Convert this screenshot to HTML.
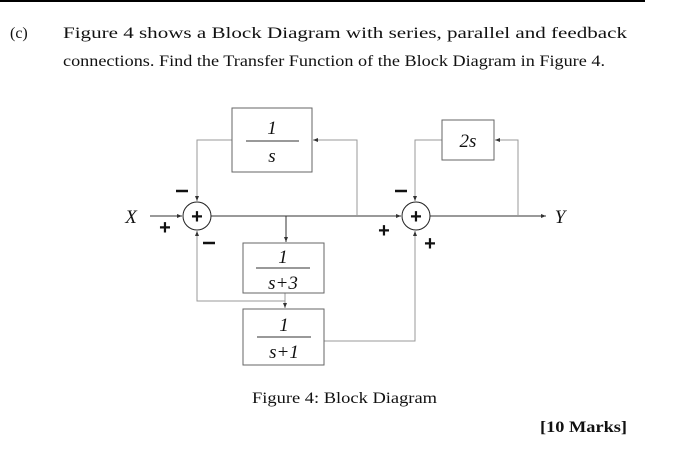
<!DOCTYPE html>
<html><head><meta charset="utf-8"><style>
body{margin:0;background:#fff;width:689px;height:451px;overflow:hidden;font-family:"Liberation Serif",serif;}
svg{position:absolute;left:0;top:0}
</style></head><body>
<svg width="689" height="451" viewBox="0 0 689 451" xmlns="http://www.w3.org/2000/svg">
<defs><marker id="a" markerWidth="6" markerHeight="6" refX="5" refY="3" orient="auto" markerUnits="userSpaceOnUse"><path d="M0,1 L5,3 L0,5 z" fill="#333"/></marker></defs>
<line x1="0" y1="1" x2="645" y2="1" stroke="#000" stroke-width="2"/>
<g font-family="Liberation Serif, serif" font-size="16" fill="#111">
<text x="10" y="38">(c)</text>
<text x="63" y="38" textLength="564" lengthAdjust="spacingAndGlyphs">Figure  4  shows  a  Block  Diagram  with  series,  parallel  and  feedback</text>
<text x="63" y="66" textLength="542" lengthAdjust="spacingAndGlyphs">connections. Find the Transfer Function of the Block Diagram in Figure 4.</text>
<text x="252" y="403" textLength="185" lengthAdjust="spacingAndGlyphs">Figure 4:  Block Diagram</text>
<text x="540" y="432" font-weight="bold" textLength="87" lengthAdjust="spacingAndGlyphs">[10 Marks]</text>
</g>
<g stroke="#999" stroke-width="1" fill="none">
<line x1="150" y1="216" x2="182" y2="216" stroke="#333" marker-end="url(#a)"/>
<line x1="211" y1="216" x2="401" y2="216" stroke="#333" marker-end="url(#a)"/>
<line x1="430" y1="216" x2="546" y2="216" stroke="#333" marker-end="url(#a)"/>
<polyline points="357,216 357,140 313,140" marker-end="url(#a)"/>
<polyline points="232,140 197,140 197,201" marker-end="url(#a)"/>
<polyline points="286,216 286,242" stroke="#333" marker-end="url(#a)"/>
<polyline points="285,293 285,308" marker-end="url(#a)"/>
<polyline points="285,301 197,301 197,231" marker-end="url(#a)"/>
<polyline points="324,341 415,341 415,231" marker-end="url(#a)"/>
<polyline points="518,216 518,140 495,140" marker-end="url(#a)"/>
<polyline points="442,140 415,140 415,201" marker-end="url(#a)"/>
</g>
<g fill="#fff" stroke="#666" stroke-width="1">
<rect x="232" y="108" width="80" height="64"/>
<rect x="442" y="120" width="52" height="40"/>
<rect x="243" y="243" width="81" height="50"/>
<rect x="243" y="309" width="81" height="56"/>
</g>
<g stroke="#333" stroke-width="1">
<line x1="246" y1="141" x2="299" y2="141"/>
<line x1="256" y1="268" x2="310" y2="268"/>
<line x1="257" y1="337" x2="311" y2="337"/>
</g>
<circle cx="197" cy="216" r="14" fill="#fff" stroke="#222"/>
<circle cx="416" cy="216" r="14" fill="#fff" stroke="#222"/>
<g font-family="Liberation Serif, serif" font-style="italic" font-size="19" fill="#111" text-anchor="middle">
<text x="272" y="134">1</text><text x="272" y="162">s</text>
<text x="468" y="147">2s</text>
<text x="283" y="263">1</text><text x="283" y="289">s+3</text>
<text x="284" y="331">1</text><text x="284" y="358">s+1</text>
<text x="131" y="223">X</text><text x="560" y="223">Y</text>
</g>
<g font-family="Liberation Sans, sans-serif" font-size="20" fill="#111" text-anchor="middle" font-weight="bold">
<text x="197" y="223">+</text><text x="416" y="223">+</text>
<text x="165" y="234">+</text><text x="384" y="237">+</text><text x="430" y="250">+</text>
</g>
<g stroke="#111" stroke-width="2.5">
<line x1="176" y1="191" x2="188" y2="191"/>
<line x1="203" y1="243" x2="215" y2="243"/>
<line x1="395" y1="191" x2="407" y2="191"/>
</g>
</svg>
</body></html>
